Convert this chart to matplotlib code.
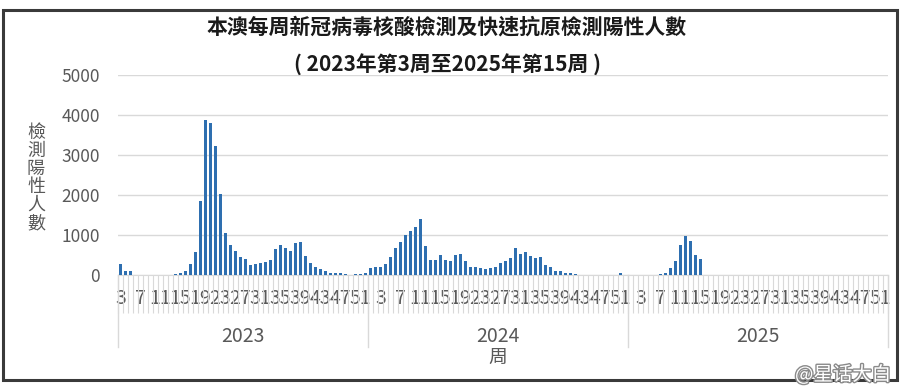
import numpy as np
import matplotlib
matplotlib.use("Agg")
import matplotlib.pyplot as plt
import matplotlib.patheffects as pe
from matplotlib.patches import Rectangle

plt.rcParams['font.family'] = ['Noto Sans CJK TC', 'DejaVu Sans']

# 每周陽性人數（由圖讀取的估計值）
years = ['2023', '2024', '2025']

weeks_2023 = list(range(3, 53))
cases_2023 = [280, 100, 100, 0, 0, 0, 0, 0, 0, 0, 0, 20, 50, 100, 280,
              580, 1850, 3870, 3790, 3220, 2020, 1040, 750, 610, 460, 390,
              240, 270, 310, 320, 380, 640, 750, 680, 600, 790, 830, 470,
              310, 200, 140, 90, 60, 40, 40, 30, 10, 20, 30, 60]

weeks_2024 = list(range(1, 53))
cases_2024 = [170, 200, 200, 280, 460, 680, 820, 1000, 1110, 1210, 1400,
              720, 380, 380, 500, 380, 350, 500, 530, 360, 210, 210, 170,
              140, 180, 210, 310, 360, 420, 680, 530, 580, 470, 420, 460,
              250, 210, 110, 110, 60, 40, 20, 0, 0, 0, 0, 0, 0, 0, 0, 60, 0]

weeks_2025 = list(range(1, 53))
cases_2025 = [0, 0, 0, 0, 0, 10, 20, 60, 170, 360, 750, 975, 860, 500, 390]

title1 = '本澳每周新冠病毒核酸檢測及快速抗原檢測陽性人數'
title2 = '( 2023年第3周至2025年第15周 )'
ylabel = '檢測陽性人數'
xlabel = '周'

grey_txt = '#595959'
grey_line = '#d9d9d9'
bar_color = '#2E6FB0'

# 把三年的類別接起來
all_weeks, all_cases, spans = [], [], []
for wk, cs in [(weeks_2023, cases_2023), (weeks_2024, cases_2024), (weeks_2025, cases_2025)]:
    start = len(all_weeks)
    all_weeks += wk
    all_cases += cs + [np.nan] * (len(wk) - len(cs))
    spans.append((start, len(all_weeks)))
n = len(all_weeks)
xs = np.arange(n)

fig = plt.figure(figsize=(9.06, 3.91), dpi=100)
ax = fig.add_axes([118 / 906, 1 - 275 / 391, 770 / 906, 200 / 391])

ax.bar(xs, all_cases, width=0.7, color=bar_color, zorder=3)

ax.set_xlim(-0.5, n - 0.5)
ax.set_ylim(0, 5000)
ax.set_yticks(range(0, 5001, 1000))
ax.grid(axis='y', color=grey_line, lw=1)
ax.set_axisbelow(True)
for s in ['left', 'top', 'right']:
    ax.spines[s].set_visible(False)
ax.spines['bottom'].set_color(grey_line)
ax.tick_params(axis='y', length=0, labelsize=12.5, labelcolor=grey_txt, pad=13)

# 每4周一個標籤，刻度線在類別之間
lab_pos = xs[::4]
ax.set_xticks(lab_pos)
ax.set_xticklabels([str(all_weeks[i]) for i in lab_pos])
ax.set_xticks(np.arange(-0.5, n, 1), minor=True)
ax.tick_params(axis='x', which='major', length=0, pad=9, labelsize=14, labelcolor=grey_txt)
ax.tick_params(axis='x', which='minor', length=27, width=0.8, color=grey_line)

trans = ax.get_xaxis_transform()
for (a, b), yr in zip(spans, years):
    ax.plot([a - 0.5, a - 0.5], [0, -0.36], transform=trans, clip_on=False,
            color=grey_line, lw=1)
    ax.text((a + b - 1) / 2, -0.31, yr, transform=trans, ha='center', va='center',
            fontsize=14, color=grey_txt)
ax.plot([n - 0.5, n - 0.5], [0, -0.36], transform=trans, clip_on=False,
        color=grey_line, lw=1)
mid = spans[1]
ax.text((mid[0] + mid[1] - 1) / 2, -0.41, xlabel, transform=trans, ha='center',
        va='center', fontsize=13.5, color=grey_txt)

fig.text(447 / 906, 1 - 27 / 391, title1, ha='center', va='center',
         fontsize=15, fontweight='bold', color='#1a1a1a')
fig.text(447 / 906, 1 - 65 / 391, title2, ha='center', va='center',
         fontsize=15, fontweight='bold', color='#1a1a1a')
fig.text(36 / 906, 1 - 178 / 391, '\n'.join(ylabel), ha='center', va='center',
         fontsize=13, linespacing=1.0, color=grey_txt)

# 外框
fig.patches.append(Rectangle((3 / 906, 1 - 380 / 391), 894 / 906, 370 / 391,
                             transform=fig.transFigure, fill=False,
                             edgecolor='#3a3a3a', lw=2.2))

# 水印
fig.text(795 / 906, 1 - 375 / 391, '@星话大白', ha='left', va='center',
         fontsize=14, color='white',
         path_effects=[pe.withStroke(linewidth=2, foreground='#8a8a8a')])

fig.savefig('out.png', dpi=100)
